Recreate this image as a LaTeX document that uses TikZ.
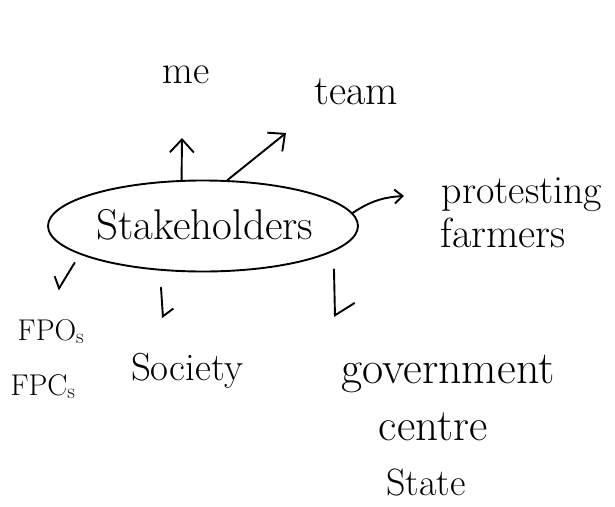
\documentclass[tikz,border=0pt]{standalone}
\usetikzlibrary{shapes.geometric,arrows.meta}
\begin{document}
\begin{tikzpicture}[x=1pt,y=-1pt,line width=1.9pt,line cap=round,line join=round]
\tikzset{
  hand/.style={font=\fontsize{#1}{#1}\selectfont,anchor=base,inner sep=0pt},
  fullhead/.style={-{Straight Barb[length=13pt,width=24pt,line width=1.9pt]}},
  smallhead/.style={-{Straight Barb[length=8pt,width=14pt,line width=1.9pt]}},
  halfhead/.style={-{Straight Barb[harpoon,length=7pt,width=22pt,line width=1.9pt]}},
  longhalfhead/.style={-{Straight Barb[harpoon,length=12pt,width=40pt,line width=1.9pt]}},
  halfheadswap/.style={-{Straight Barb[harpoon,swap,length=8pt,width=20pt,line width=1.9pt]}},
}
\useasboundingbox (0,0) rectangle (615,506);
\fill[white] (0,0) rectangle (615,506);

% central ellipse
\node[ellipse,draw,minimum width=310pt,minimum height=91pt,inner sep=0pt] (s) at (203,226) {};
\node[hand=43] (stake) at (205,239) {Stakeholders};

% labels
\node[hand=40] (me) at (186,83) {me};
\node[hand=42] (team) at (356,104) {team};
\node[hand=40] (prot) at (522,203) {protesting};
\node[hand=42] (farm) at (503,247) {farmers};
\node[hand=30] (fpo) at (51,340) {FPO\textsubscript{s}};
\node[hand=30] (fpc) at (43,395) {FPC\textsubscript{s}};
\node[hand=39] (soc) at (187,380) {Society};
\node[hand=46] (gov) at (448,383) {government};
\node[hand=45] (cen) at (433,440) {centre};
\node[hand=38] (sta) at (426,495) {State};

% arrow tips
\coordinate (metip) at (182,138);
\coordinate (teamtip) at (286,133);
\coordinate (prottip) at (404,196);
\coordinate (fpotip) at (58,290);
\coordinate (soctip) at (163,318);
\coordinate (govtip) at (335,317);

% connectors
\draw[fullhead] (s.115) -- (metip);
\draw[fullhead] (s.62) -- (teamtip);
\draw[smallhead] (s.5) to[bend left=15] (prottip);
\draw[halfheadswap,shorten <=9.7pt] (s.193) -- (fpotip);
\draw[halfhead,shorten <=17pt] (s.226) -- (soctip);
\draw[longhalfhead,shorten <=18pt] (s.349) -- (govtip);
\end{tikzpicture}
\end{document}
